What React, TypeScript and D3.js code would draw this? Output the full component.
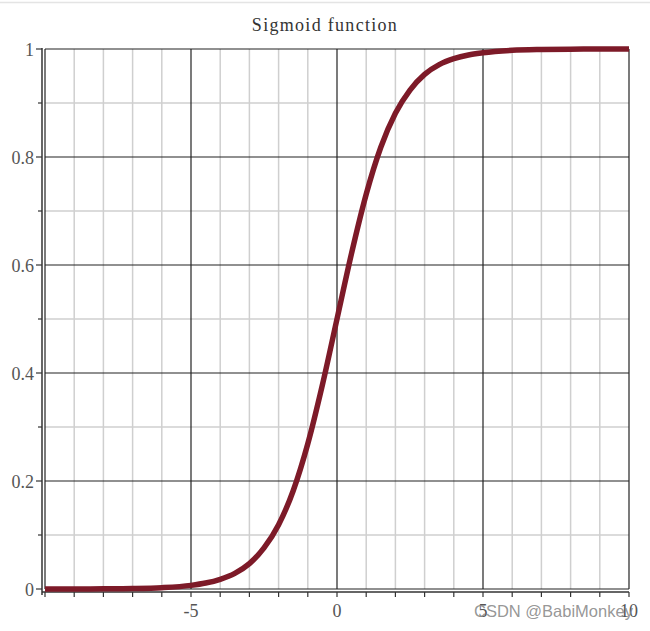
import React from "react";
import * as d3 from "d3";

const xs = [-10, -9, -8, -7, -6, -5, -4.5, -4, -3.5, -3, -2.5, -2, -1.5, -1, -0.5, 0, 0.5, 1, 1.5, 2, 2.5, 3, 3.5, 4, 4.5, 5, 6, 7, 8, 9, 10];
const ys = [0.00005, 0.00012, 0.00034, 0.0009, 0.0025, 0.0067, 0.011, 0.018, 0.029, 0.047, 0.076, 0.119, 0.182, 0.269, 0.378, 0.5, 0.622, 0.731, 0.818, 0.881, 0.924, 0.953, 0.971, 0.982, 0.989, 0.993, 0.9975, 0.9991, 0.9997, 0.9999, 1.0];
const xTickLabels = [-5, 0, 5, 10];
const yTickLabels = [0, 0.2, 0.4, 0.6, 0.8, 1];
const xMinor = d3.range(-10, 11, 1);
const yMinor = d3.range(0, 11, 1).map((d) => d / 10);

export default function App() {
  const W = 650, H = 631;
  const x = d3.scaleLinear().domain([-10, 10]).range([45, 629]);
  const y = d3.scaleLinear().domain([0, 1]).range([589, 49]);
  const pts = xs.map((v, i) => [v, ys[i]] as [number, number]);
  const line = d3.line<[number, number]>().x((d) => x(d[0])).y((d) => y(d[1])).curve(d3.curveMonotoneX);
  const serif = "'Liberation Serif', 'DejaVu Serif', serif";
  return (
    <svg width={W} height={H} style={{ position: "absolute", left: 0, top: 0, background: "#fff" }}>
      <line x1={0} x2={W} y1={2.5} y2={2.5} stroke="#e4e4e4" strokeWidth={1.5} />
      <text x={325} y={31} textAnchor="middle" fontFamily={serif} fontSize={18} letterSpacing={1.3} fill="#333">Sigmoid function</text>
      {/* minor grid */}
      {xMinor.filter((d) => d % 5 !== 0).map((d) => (
        <line key={"gx" + d} x1={x(d)} x2={x(d)} y1={y(1)} y2={y(0)} stroke="#cfcfcf" strokeWidth={1.5} />
      ))}
      {yMinor.filter((d) => Math.round(d * 10) % 2 !== 0).map((d) => (
        <line key={"gy" + d} x1={x(-10)} x2={x(10)} y1={y(d)} y2={y(d)} stroke="#cfcfcf" strokeWidth={1.5} />
      ))}
      {/* major grid */}
      {xMinor.filter((d) => d % 5 === 0).map((d) => (
        <line key={"mx" + d} x1={x(d)} x2={x(d)} y1={y(1)} y2={y(0)} stroke="#222" strokeWidth={1.2} />
      ))}
      {yTickLabels.map((d) => (
        <line key={"my" + d} x1={x(-10)} x2={x(10)} y1={y(d)} y2={y(d)} stroke="#222" strokeWidth={1.2} />
      ))}
      {/* axes */}
      <line x1={42} x2={42} y1={y(1) - 1} y2={595} stroke="#333" strokeWidth={1.5} />
      <line x1={42} x2={x(10)} y1={592} y2={592} stroke="#333" strokeWidth={1.5} />
      {yMinor.map((d) => (
        <line key={"ty" + d} x1={Math.round(d * 10) % 2 === 0 ? 36 : 38} x2={42} y1={y(d)} y2={y(d)} stroke="#333" strokeWidth={1.2} />
      ))}
      {xMinor.map((d) => (
        <line key={"tx" + d} x1={x(d)} x2={x(d)} y1={592} y2={597} stroke="#333" strokeWidth={1.2} />
      ))}
      {yTickLabels.map((d) => (
        <text key={"ly" + d} x={34} y={y(d) + 6.5} textAnchor="end" fontFamily={serif} fontSize={18} fill="#555">{d === 0 || d === 1 ? String(d) : d.toFixed(1)}</text>
      ))}
      {xTickLabels.map((d) => (
        <text key={"lx" + d} x={x(d)} y={617} textAnchor="middle" fontFamily={serif} fontSize={18} fill="#555">{d < 0 ? "-" + Math.abs(d) : String(d)}</text>
      ))}
      <path d={line(pts) || ""} fill="none" stroke="#7d1a28" strokeWidth={5.5} strokeLinejoin="round" />
      <text x={474} y={617} fontFamily="'Liberation Sans', Arial, sans-serif" fontSize={16.5} fill="#8a8a8a" fillOpacity={0.9}>CSDN @BabiMonkey</text>
    </svg>
  );
}
